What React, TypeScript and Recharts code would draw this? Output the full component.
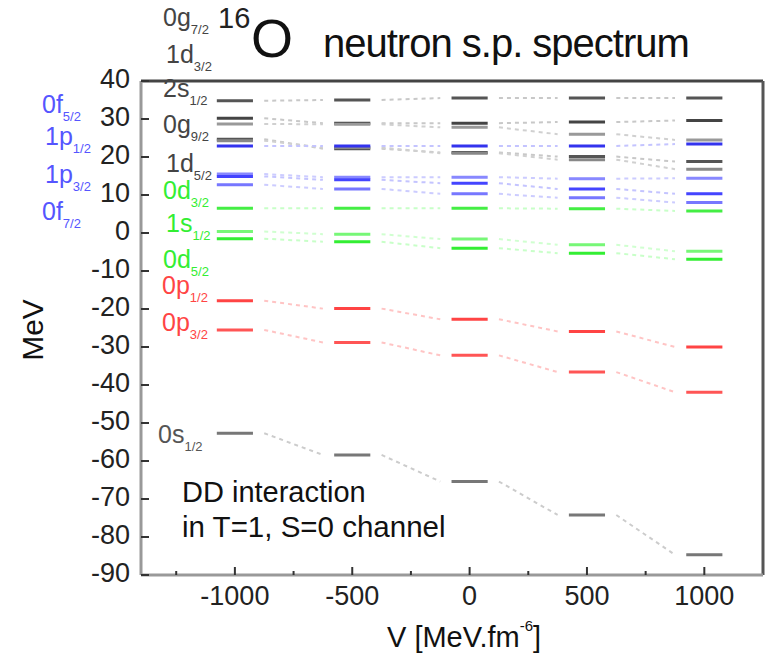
import { LineChart, Line, XAxis, YAxis, ReferenceLine } from "recharts";

// interaction strength V [MeV fm^6]
const strengths = [-1000, -500, 0, 500, 1000];

// single-particle energies [MeV] at each strength
const e0g72 = [34.8, 35.0, 35.5, 35.5, 35.5];
const e1d32 = [30.2, 28.9, 28.9, 29.2, 29.6];
const e2s12 = [28.7, 28.6, 27.8, 26.0, 24.5];
const e0g92 = [24.7, 22.2, 21.2, 20.1, 18.8];
const e1d52 = [24.3, 22.5, 21.0, 19.3, 16.8];

const e0f52 = [22.9, 22.9, 22.9, 22.9, 23.4];
const e1p12 = [15.5, 14.7, 14.7, 14.3, 14.4];
const e1p32 = [14.9, 14.0, 13.1, 11.6, 10.3];
const e0f72 = [12.7, 11.6, 10.3, 9.3, 8.0];

const e0d32 = [6.5, 6.5, 6.5, 6.4, 5.8];
const e1s12 = [0.4, -0.3, -1.6, -3.1, -4.8];
const e0d52 = [-1.5, -2.3, -4.0, -5.3, -6.9];

const e0p12 = [-17.8, -19.9, -22.7, -25.9, -30.0];
const e0p32 = [-25.5, -28.8, -32.2, -36.6, -41.9];

const e0s12 = [-52.7, -58.4, -65.4, -74.2, -84.7];

const xTicks = [-1250, -1000, -750, -500, -250, 0, 250, 500, 750, 1000];
const yTicks = [
  -90, -85, -80, -75, -70, -65, -60, -55, -50, -45, -40, -35, -30, -25, -20,
  -15, -10, -5, 0, 5, 10, 15, 20, 25, 30, 35, 40,
];

const HALF = 77; // half width of a level bar, in V units
const GAP = 125; // where the dotted connector starts/ends

type Pt = { x: number; y: number | null };

function bars(vals: number[]): Pt[] {
  return strengths.flatMap((v, i) => [
    { x: v - HALF, y: vals[i] },
    { x: v + HALF, y: vals[i] },
    { x: v + HALF + 1, y: null },
  ]);
}

function links(vals: number[]): Pt[] {
  const out: Pt[] = [];
  for (let i = 0; i < strengths.length - 1; i++) {
    out.push({ x: strengths[i] + GAP, y: vals[i] });
    out.push({ x: strengths[i + 1] - GAP, y: vals[i + 1] });
    out.push({ x: strengths[i + 1] - GAP + 1, y: null });
  }
  return out;
}

const series = [
  { vals: e0g72, bar: "#555", link: "#c8c8c8" },
  { vals: e1d32, bar: "#444", link: "#c8c8c8" },
  { vals: e2s12, bar: "#999", link: "#d0d0d0" },
  { vals: e0g92, bar: "#555", link: "#c8c8c8" },
  { vals: e1d52, bar: "#888", link: "#d0d0d0" },
  { vals: e0f52, bar: "#3333ee", link: "#c4c4ff" },
  { vals: e1p12, bar: "#8888ff", link: "#ccccff" },
  { vals: e1p32, bar: "#4444ff", link: "#c4c4ff" },
  { vals: e0f72, bar: "#7777ff", link: "#ccccff" },
  { vals: e0d32, bar: "#44ee44", link: "#c8ffc8" },
  { vals: e1s12, bar: "#77f777", link: "#d0ffd0" },
  { vals: e0d52, bar: "#33ee33", link: "#c8ffc8" },
  { vals: e0p12, bar: "#ff4444", link: "#ffc4c4" },
  { vals: e0p32, bar: "#ff5555", link: "#ffc4c4" },
  { vals: e0s12, bar: "#777", link: "#cccccc" },
];

const YTick = (props: any) => {
  const { x, y, payload } = props;
  const v = payload.value as number;
  const major = v % 10 === 0;
  return (
    <g>
      <line x1={x} x2={x + (major ? 8 : 4)} y1={y} y2={y} stroke="#333" strokeWidth={2} />
      {major && (
        <text x={x - 11} y={y + 7} textAnchor="end" fontSize={27} fill="#222">
          {v}
        </text>
      )}
    </g>
  );
};

const XTick = (props: any) => {
  const { x, y, payload } = props;
  const v = payload.value as number;
  const major = v % 500 === 0;
  return (
    <g>
      <line x1={x} x2={x} y1={y} y2={y - (major ? 8 : 4)} stroke="#333" strokeWidth={2} />
      {major && (
        <text x={x} y={y + 30} textAnchor="middle" fontSize={27} fill="#222">
          {v}
        </text>
      )}
    </g>
  );
};

const Orbit = ({ x, y, main, sub, color }: { x: number; y: number; main: string; sub: string; color: string }) => (
  <text x={x} y={y} fill={color} fontSize={25}>
    {main}
    <tspan fontSize={13} dy={8}>
      {sub}
    </tspan>
  </text>
);

export default function App() {
  return (
    <div style={{ position: "absolute", left: 0, top: 0, background: "#fff" }}>
      <LineChart
        width={768}
        height={660}
        margin={{ top: 81, right: 5, bottom: 0, left: 0 }}
        style={{ fontFamily: "'Liberation Sans', Arial, sans-serif" }}
      >
        <XAxis
          type="number"
          dataKey="x"
          domain={[-1400, 1250]}
          ticks={xTicks}
          height={85}
          tickSize={0}
          tickMargin={0}
          tickLine={false}
          tick={<XTick />}
          axisLine={{ stroke: "#999", strokeWidth: 3 }}
          allowDataOverflow
        />
        <YAxis
          type="number"
          domain={[-90, 40]}
          ticks={yTicks}
          width={141}
          tickSize={0}
          tickMargin={0}
          tickLine={false}
          tick={<YTick />}
          axisLine={{ stroke: "#999", strokeWidth: 3 }}
          allowDataOverflow
        />
        <ReferenceLine y={40} stroke="#444" strokeWidth={3} />
        <ReferenceLine x={1250} stroke="#555" strokeWidth={3} />

        {series.map((s, i) => (
          <Line
            key={`link${i}`}
            data={links(s.vals)}
            dataKey="y"
            stroke={s.link}
            strokeWidth={2}
            strokeDasharray="4 4"
            dot={false}
            activeDot={false}
            isAnimationActive={false}
          />
        ))}
        {series.map((s, i) => (
          <Line
            key={`bar${i}`}
            data={bars(s.vals)}
            dataKey="y"
            stroke={s.bar}
            strokeWidth={3}
            dot={false}
            activeDot={false}
            isAnimationActive={false}
          />
        ))}

        <g>
          <text x={218} y={28} fontSize={29} fill="#222">16</text>
          <text x={251} y={57} fontSize={54} fill="#111">O</text>
          <text x={323} y={57} fontSize={40} letterSpacing={-1} fill="#111">
            neutron s.p. spectrum
          </text>

          <Orbit x={163} y={26} main="0g" sub="7/2" color="#444" />
          <Orbit x={166} y={63} main="1d" sub="3/2" color="#444" />
          <Orbit x={163} y={97} main="2s" sub="1/2" color="#444" />
          <Orbit x={163} y={133} main="0g" sub="9/2" color="#444" />
          <Orbit x={166} y={172} main="1d" sub="5/2" color="#444" />
          <Orbit x={163} y={199} main="0d" sub="3/2" color="#33ee33" />
          <Orbit x={166} y={232} main="1s" sub="1/2" color="#33ee33" />
          <Orbit x={163} y={268} main="0d" sub="5/2" color="#33ee33" />
          <Orbit x={162} y={294} main="0p" sub="1/2" color="#ff4444" />
          <Orbit x={162} y={331} main="0p" sub="3/2" color="#ff4444" />
          <Orbit x={158} y={443} main="0s" sub="1/2" color="#555" />

          <Orbit x={42} y={113} main="0f" sub="5/2" color="#5555ff" />
          <Orbit x={45} y={145} main="1p" sub="1/2" color="#5555ff" />
          <Orbit x={45} y={183} main="1p" sub="3/2" color="#5555ff" />
          <Orbit x={42} y={220} main="0f" sub="7/2" color="#5555ff" />

          <text x={182} y={502} fontSize={29} fill="#111">DD interaction</text>
          <text x={182} y={537} fontSize={29.5} fill="#111">in T=1, S=0 channel</text>

          <text x={387} y={647} fontSize={29} fill="#111">
            V [MeV.fm
            <tspan fontSize={15} dy={-16}>-6</tspan>
            <tspan dy={16}>]</tspan>
          </text>
          <text
            x={0}
            y={0}
            fontSize={30}
            fill="#111"
            textAnchor="middle"
            transform="translate(43 330) rotate(-90)"
          >
            MeV
          </text>
        </g>
      </LineChart>
    </div>
  );
}
